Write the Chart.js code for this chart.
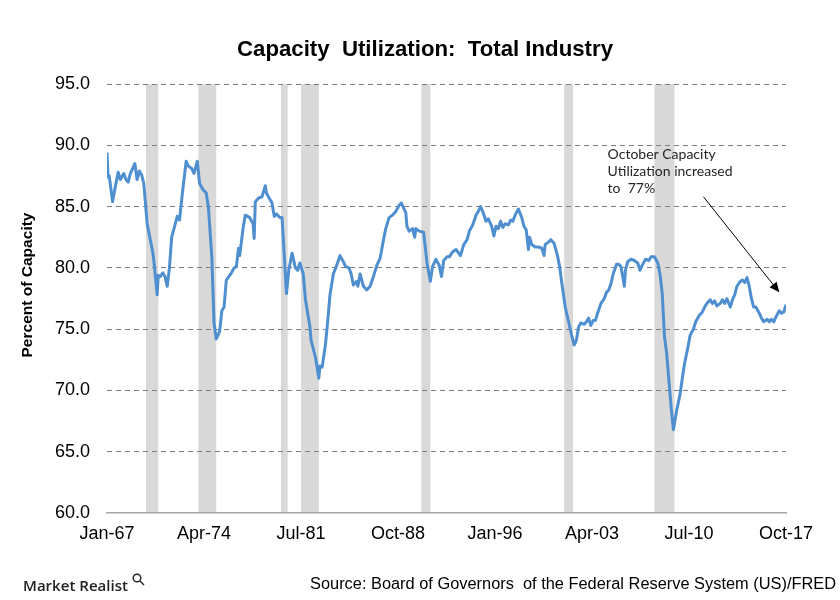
<!DOCTYPE html>
<html>
<head>
<meta charset="utf-8">
<script src="https://cdn.jsdelivr.net/npm/chart.js@4.4.1/dist/chart.umd.min.js"></script>
<style>
  body { margin: 0; background: #fff; }
  canvas { display: block; }
</style>
</head>
<body>
<canvas id="canvas-chart" width="840" height="600"></canvas>
<script>
// months counted from Jan-1967
const months = [0, 1, 2, 5, 7, 10, 12, 15, 17, 19, 21, 25, 27, 29, 31, 33, 36, 41, 42, 45,
  46, 48, 50, 52, 54, 56, 58, 61, 63, 65, 68, 71, 73, 76, 78, 81, 83, 86, 89, 91,
  94, 96, 98, 101, 103, 105, 107, 111, 114, 116, 118, 119, 122, 124, 128, 131, 132, 133, 136, 139,
  142, 143, 146, 148, 150, 152, 155, 157, 161, 163, 166, 169, 171, 173, 176, 178, 180, 182, 183, 187,
  190, 191, 193, 196, 198, 200, 203, 206, 209, 212, 214, 217, 219, 221, 224, 225, 227, 230, 233, 236,
  239, 242, 245, 248, 250, 253, 256, 259, 262, 264, 266, 268, 269, 271, 274, 276, 277, 280, 284, 287,
  290, 292, 295, 298, 300, 302, 305, 307, 310, 313, 317, 320, 323, 325, 328, 331, 333, 335, 337, 340,
  342, 345, 347, 349, 351, 353, 355, 357, 360, 362, 364, 366, 369, 372, 374, 376, 378, 379, 381, 384,
  387, 390, 392, 393, 396, 398, 401, 404, 406, 408, 411, 414, 417, 419, 421, 423, 425, 428, 430, 432,
  434, 436, 438, 440, 443, 446, 448, 450, 452, 454, 457, 459, 461, 464, 465, 467, 470, 473, 476, 478,
  480, 483, 486, 488, 491, 494, 496, 498, 500, 502, 504, 506, 508, 511, 514, 516, 518, 521, 523, 526,
  528, 531, 534, 536, 538, 541, 543, 545, 547, 550, 552, 554, 556, 559, 561, 563, 565, 568, 570, 572,
  574, 576, 578, 580, 582, 585, 587, 589, 592, 594, 596, 598, 600, 603, 605, 607, 609];
const utilization = [89.4, 87.4, 87.5, 85.4, 86.4, 87.8, 87.2, 87.7, 87.2, 87.0, 87.7, 88.5, 87.2, 87.9, 87.6, 86.9, 83.6, 81.3, 80.6, 77.8,
  79.4, 79.3, 79.6, 79.3, 78.5, 80.0, 82.5, 83.5, 84.2, 83.9, 86.4, 88.7, 88.3, 88.1, 87.7, 88.7, 86.9, 86.4, 86.1, 84.9,
  80.9, 75.5, 74.2, 74.8, 76.5, 76.8, 79.0, 79.5, 80.0, 80.1, 81.6, 81.0, 83.2, 84.3, 84.1, 83.6, 82.4, 85.4, 85.7, 85.8,
  86.7, 86.1, 85.6, 85.3, 84.2, 84.4, 84.1, 84.1, 77.9, 79.8, 81.2, 80.0, 79.8, 80.4, 79.5, 77.4, 76.3, 75.2, 74.1, 72.7,
  71.0, 72.0, 71.9, 73.8, 75.7, 77.8, 79.5, 80.2, 81.0, 80.5, 80.1, 80.0, 79.5, 78.6, 78.9, 78.5, 79.5, 78.5, 78.2, 78.5,
  79.3, 80.2, 80.8, 82.3, 83.2, 84.1, 84.3, 84.6, 85.1, 85.3, 84.9, 84.5, 83.4, 83.0, 83.2, 82.5, 83.2, 83.0, 82.9, 80.4,
  78.9, 80.1, 80.7, 80.2, 79.3, 80.6, 80.9, 80.9, 81.3, 81.5, 81.0, 81.9, 82.3, 83.0, 83.5, 84.3, 84.6, 85.0, 84.6, 83.8,
  84.0, 83.4, 82.6, 83.4, 83.2, 83.8, 83.3, 83.6, 83.5, 83.9, 83.8, 84.3, 84.8, 84.1, 83.4, 83.1, 81.5, 82.5, 81.9, 81.7,
  81.7, 81.6, 81.0, 81.9, 82.1, 82.3, 82.0, 81.0, 80.1, 78.7, 76.8, 75.6, 74.4, 73.7, 74.1, 75.2, 75.5, 75.4, 75.6, 75.9,
  75.3, 75.7, 75.7, 76.3, 77.1, 77.5, 78.0, 78.2, 78.7, 79.5, 80.3, 80.3, 80.1, 78.5, 79.8, 80.5, 80.7, 80.6, 80.4, 79.8,
  80.2, 80.7, 80.6, 80.9, 80.9, 80.4, 79.5, 77.9, 74.4, 73.0, 70.8, 68.6, 66.8, 68.4, 69.7, 71.0, 72.2, 73.5, 74.5, 75.0,
  75.6, 76.1, 76.4, 76.8, 77.1, 77.4, 77.1, 77.3, 76.9, 77.1, 77.4, 77.1, 77.5, 76.8, 77.4, 77.8, 78.5, 78.9, 79.0, 78.8,
  79.2, 78.5, 77.5, 76.8, 76.8, 76.3, 75.9, 75.6, 75.8, 75.6, 75.8, 75.6, 76.0, 76.5, 76.3, 76.4, 77.0];

// recessions (start / end month)
const recessionStart = [35, 82, 156, 174, 282, 410, 491];
const recessionEnd = [46, 98, 162, 190, 290, 418, 509];

const tickMonths = [0, 87, 174, 261, 348, 435, 522, 609];
const tickLabels = ["Jan-67", "Apr-74", "Jul-81", "Oct-88", "Jan-96", "Apr-03", "Jul-10", "Oct-17"];

const noteLines = ["October Capacity", "Utilization increased", "to  77%"];
const notePos = { x: 449, y: 88.85 };
const arrowFrom = { x: 535, y: 85.8 };
const arrowTo = { x: 603, y: 78.0 };

const canvas = document.getElementById("canvas-chart");

function fitText(ctx, text, x, y, width, align) {
  const w = ctx.measureText(text).width;
  ctx.save();
  ctx.translate(x, y);
  ctx.scale(width / w, 1);
  ctx.textAlign = "left";
  ctx.fillText(text, align === "center" ? -w / 2 : 0, 0);
  ctx.restore();
}

const decor = {
  id: "decor",
  beforeDraw(chart) {
    const { ctx, chartArea, scales } = chart;
    ctx.save();
    ctx.fillStyle = "#D9D9D9";
    for (let i = 0; i < recessionStart.length; i++) {
      const x1 = scales.x.getPixelForValue(recessionStart[i]);
      const x2 = scales.x.getPixelForValue(recessionEnd[i]);
      ctx.fillRect(x1, chartArea.top, x2 - x1, chartArea.bottom - chartArea.top);
    }
    ctx.restore();
  },
  afterDraw(chart) {
    const { ctx, scales } = chart;
    ctx.save();
    ctx.fillStyle = "#000";
    ctx.textBaseline = "alphabetic";

    // title
    ctx.font = "bold 22px 'Liberation Sans', Arial";
    fitText(ctx, "Capacity  Utilization:  Total Industry", 425, 56, 376, "center");

    // y axis title
    ctx.save();
    ctx.translate(28, 285);
    ctx.rotate(-Math.PI / 2);
    ctx.font = "bold 15px 'Liberation Sans', Arial";
    ctx.textBaseline = "middle";
    fitText(ctx, "Percent of Capacity", 0, 0, 145, "center");
    ctx.restore();

    // note + arrow
    ctx.fillStyle = "#262626";
    ctx.font = "14px Lato";
    const nx = scales.x.getPixelForValue(notePos.x);
    const ny = scales.y.getPixelForValue(notePos.y);
    noteLines.forEach((t, i) => ctx.fillText(t, nx, ny + i * 17));

    const ax1 = scales.x.getPixelForValue(arrowFrom.x);
    const ay1 = scales.y.getPixelForValue(arrowFrom.y);
    const ax2 = scales.x.getPixelForValue(arrowTo.x);
    const ay2 = scales.y.getPixelForValue(arrowTo.y);
    const ang = Math.atan2(ay2 - ay1, ax2 - ax1);
    ctx.strokeStyle = "#000";
    ctx.lineWidth = 1;
    ctx.beginPath();
    ctx.moveTo(ax1, ay1);
    ctx.lineTo(ax2 - 6 * Math.cos(ang), ay2 - 6 * Math.sin(ang));
    ctx.stroke();
    ctx.fillStyle = "#000";
    ctx.beginPath();
    ctx.moveTo(ax2, ay2);
    ctx.lineTo(ax2 - 10 * Math.cos(ang) + 4.5 * Math.sin(ang), ay2 - 10 * Math.sin(ang) - 4.5 * Math.cos(ang));
    ctx.lineTo(ax2 - 10 * Math.cos(ang) - 4.5 * Math.sin(ang), ay2 - 10 * Math.sin(ang) + 4.5 * Math.cos(ang));
    ctx.closePath();
    ctx.fill();

    // footer
    ctx.fillStyle = "#222";
    ctx.font = "600 15px 'Open Sans'";
    fitText(ctx, "Market Realist", 23, 591, 105, "left");
    ctx.strokeStyle = "#222";
    ctx.lineWidth = 1.4;
    ctx.beginPath();
    ctx.arc(137, 578, 3.8, 0, Math.PI * 2);
    ctx.stroke();
    ctx.beginPath();
    ctx.moveTo(140, 581);
    ctx.lineTo(144, 585);
    ctx.stroke();

    ctx.fillStyle = "#000";
    ctx.font = "16px 'Liberation Sans', Arial";
    fitText(ctx, "Source: Board of Governors  of the Federal Reserve System (US)/FRED", 310, 589, 526, "left");
    ctx.restore();
  },
};

const cuChart = new Chart(canvas, {
  type: "line",
  data: {
    datasets: [
      {
        label: "Capacity Utilization",
        data: months.map((m, i) => ({ x: m, y: utilization[i] })),
        borderColor: "#4F8FD0",
        borderWidth: 3,
        pointRadius: 0,
        tension: 0,
        borderJoinStyle: "round",
      },
    ],
  },
  options: {
    responsive: false,
    animation: false,
    layout: { padding: { top: 84, right: 54, bottom: 47, left: 0 } },
    plugins: {
      legend: { display: false },
      tooltip: { enabled: false },
    },
    scales: {
      x: {
        type: "linear",
        min: 0,
        max: 609,
        afterBuildTicks: (s) => {
          s.ticks = tickMonths.map((v) => ({ value: v }));
        },
        afterFit: (s) => {
          s.height = 40;
        },
        grid: { display: false, drawTicks: false },
        border: { display: true, color: "#A6A6A6", width: 1.5 },
        ticks: {
          autoSkip: false,
          maxRotation: 0,
          padding: 10,
          color: "#000",
          font: { family: "'Liberation Sans', Arial", size: 18 },
          callback: (v) => tickLabels[tickMonths.indexOf(v)],
        },
      },
      y: {
        min: 60,
        max: 95,
        afterFit: (s) => {
          s.width = 107;
        },
        grid: {
          drawTicks: false,
          color: (c) => (c.tick && c.tick.value === 60 ? "rgba(0,0,0,0)" : "#7F7F7F"),
          lineWidth: 1,
        },
        border: { display: false, dash: [5, 4] },
        ticks: {
          stepSize: 5,
          padding: 17,
          color: "#000",
          font: { family: "'Liberation Sans', Arial", size: 18 },
          callback: (v) => v.toFixed(1),
        },
      },
    },
  },
  plugins: [decor],
});
</script>
</body>
</html>
